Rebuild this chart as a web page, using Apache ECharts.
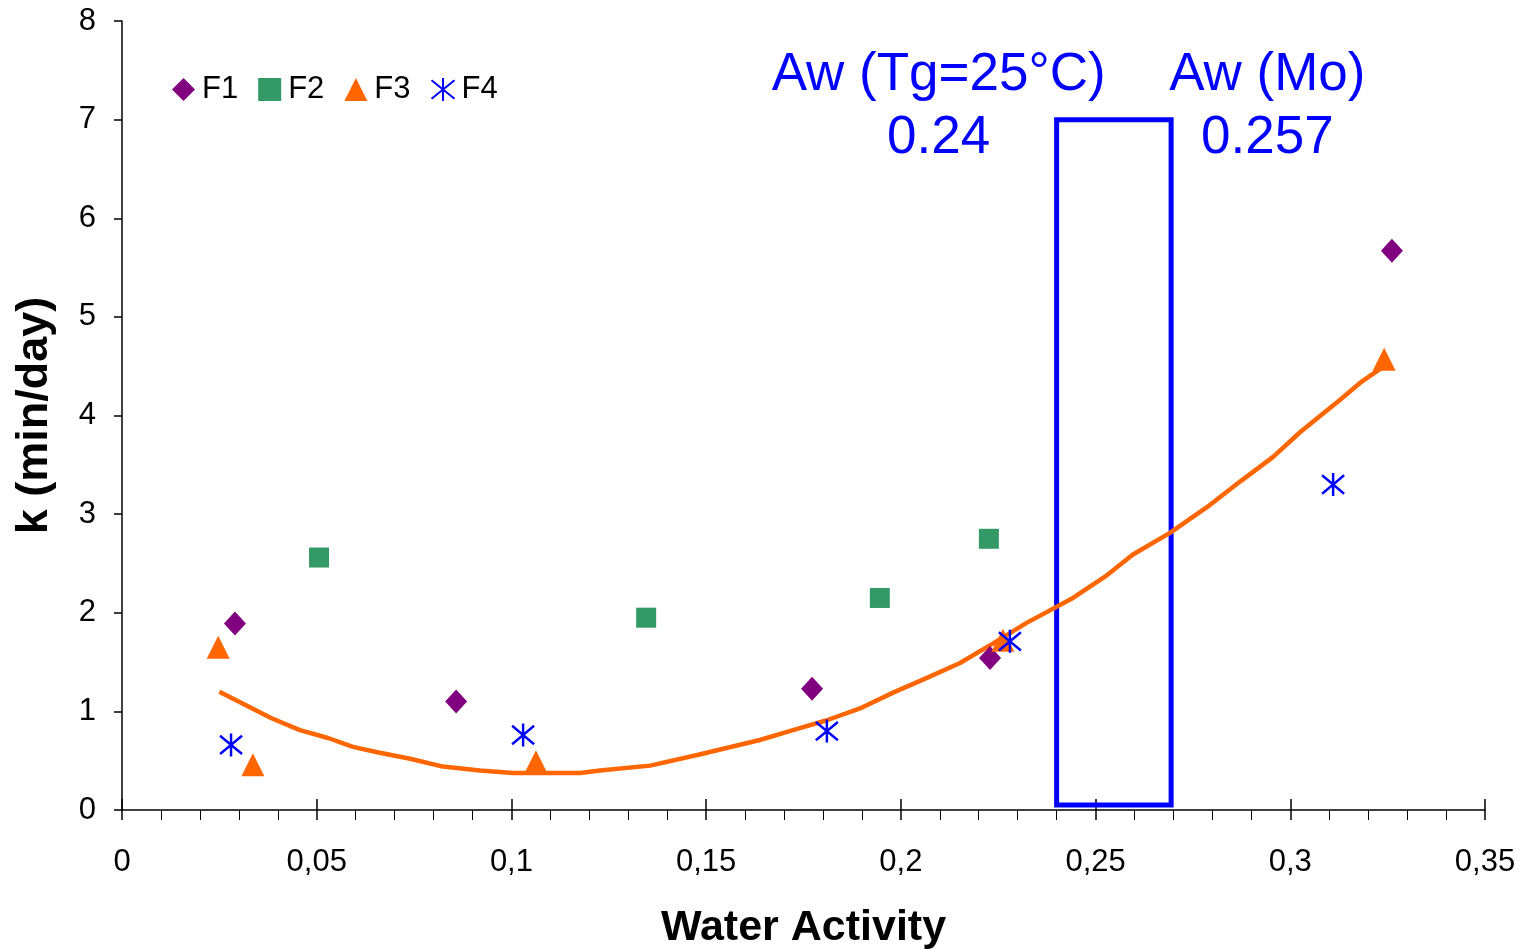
<!DOCTYPE html>
<html>
<head>
<meta charset="utf-8">
<script src="https://cdn.jsdelivr.net/npm/echarts@6/dist/echarts.min.js"></script>
<style>
html,body{margin:0;padding:0;background:#fff;}
#chart{width:1526px;height:949px;}
</style>
</head>
<body>
<div id="chart"></div>
<script>
// ---- data ----
const seriesNames = ['F1', 'F2', 'F3', 'F4'];
const f1 = [[0.029, 1.89], [0.0858, 1.10], [0.1772, 1.23], [0.2229, 1.54], [0.3261, 5.67]];
const f2 = [[0.0506, 2.56], [0.1346, 1.95], [0.1946, 2.15], [0.2226, 2.75]];
const f3 = [[0.0247, 1.65], [0.0336, 0.46], [0.1063, 0.49], [0.2262, 1.72], [0.3241, 4.57]];
const f4 = [[0.028, 0.66], [0.103, 0.76], [0.181, 0.80], [0.228, 1.71], [0.311, 3.30]];
const trendF3 = [
  [0.025, 1.20], [0.0384, 0.93], [0.0457, 0.81], [0.0529, 0.73], [0.0593, 0.64],
  [0.0662, 0.58], [0.074, 0.52], [0.0824, 0.44], [0.0919, 0.40], [0.1004, 0.375],
  [0.1176, 0.375], [0.1227, 0.40], [0.1356, 0.45], [0.148, 0.56], [0.1638, 0.71],
  [0.1723, 0.81], [0.181, 0.91], [0.1895, 1.03], [0.198, 1.19], [0.2067, 1.34],
  [0.2152, 1.49], [0.2237, 1.69], [0.2324, 1.90], [0.2442, 2.15], [0.2529, 2.38],
  [0.2596, 2.59], [0.2691, 2.81], [0.2786, 3.07], [0.2871, 3.33], [0.2956, 3.58],
  [0.3025, 3.83], [0.3128, 4.16], [0.3179, 4.33], [0.3241, 4.50]
];
const xTickLabels = ['0', '0,05', '0,1', '0,15', '0,2', '0,25', '0,3', '0,35'];
const yTickLabels = ['0', '1', '2', '3', '4', '5', '6', '7', '8'];
const boxAw = [0.24, 0.2694];
const boxK = [0.05, 7.0];
const annotText = ['Aw (Tg=25°C)\n0.24', 'Aw (Mo)\n0.257'];
const annotX = [0.2097, 0.2941];
const annotY = [7.133, 7.133];

const colors = { F1: '#800080', F2: '#339966', F3: '#FF6600', F4: '#0000FF' };
const FONT = '"Liberation Sans", Arial, sans-serif';
const starPath = 'path://M10,0L10,20M0,2L20,18M0,18L20,2';

const chart = echarts.init(document.getElementById('chart'), null, { renderer: 'canvas' });

const xCommon = { type: 'value', min: 0, max: 0.35, interval: 0.05, gridIndex: 0 };

chart.setOption({
  backgroundColor: '#ffffff',
  animation: false,
  grid: { left: 122, right: 41, top: 21, bottom: 139, containLabel: false, outerBoundsMode: 'none' },
  legend: {
    left: 167, top: 69,
    data: seriesNames,
    itemWidth: 23, itemHeight: 23, itemGap: 20,
    textStyle: { fontFamily: FONT, fontSize: 31, color: '#000', padding: [0, 0, 0, 2] }
  },
  xAxis: [
    Object.assign({}, xCommon, {
      position: 'bottom',
      name: 'Water Activity',
      nameLocation: 'middle',
      nameGap: 97,
      nameTextStyle: { fontFamily: FONT, fontSize: 43, fontWeight: 'bold', color: '#000' },
      axisLine: { show: true, lineStyle: { color: '#000', width: 1.5 } },
      axisTick: { show: true, inside: false, length: 10, lineStyle: { color: '#000', width: 1.5 } },
      minorTick: { show: true, splitNumber: 5, length: 10, lineStyle: { color: '#000', width: 1 } },
      splitLine: { show: false },
      minorSplitLine: { show: false },
      axisLabel: {
        margin: 37, fontFamily: FONT, fontSize: 31, color: '#000',
        formatter: v => xTickLabels[Math.round(v / 0.05)]
      }
    }),
    Object.assign({}, xCommon, {
      position: 'bottom',
      axisLine: { show: false },
      axisTick: { show: true, inside: true, length: 11, lineStyle: { color: '#000', width: 1.5 } },
      axisLabel: { show: false },
      splitLine: { show: false }
    })
  ],
  yAxis: {
    type: 'value', min: 0, max: 8, interval: 1,
    name: 'k (min/day)',
    nameLocation: 'middle',
    nameGap: 65,
    nameRotate: 90,
    nameTextStyle: { fontFamily: FONT, fontSize: 45, fontWeight: 'bold', color: '#000' },
    axisLine: { show: true, lineStyle: { color: '#000', width: 1.5 } },
    axisTick: { show: true, inside: false, length: 8, lineStyle: { color: '#000', width: 1.5 } },
    splitLine: { show: false },
    axisLabel: {
      margin: 26, fontFamily: FONT, fontSize: 31, color: '#000',
      formatter: v => yTickLabels[Math.round(v)]
    }
  },
  series: [
    {
      name: 'trend', type: 'line', data: trendF3, showSymbol: false, symbol: 'none',
      smooth: false, lineStyle: { color: colors.F3, width: 4.5, opacity: 1 }, z: 2, silent: true
    },
    {
      name: 'F1', type: 'scatter', data: f1, symbol: 'diamond', symbolSize: [22, 24],
      itemStyle: { color: colors.F1, opacity: 1 }, z: 3
    },
    {
      name: 'F2', type: 'scatter', data: f2, symbol: 'rect', symbolSize: 20,
      itemStyle: { color: colors.F2, opacity: 1 }, z: 3
    },
    {
      name: 'F3', type: 'scatter', data: f3, symbol: 'triangle', symbolSize: [23, 23],
      itemStyle: { color: colors.F3, opacity: 1 }, z: 3
    },
    {
      name: 'F4', type: 'scatter', data: f4, symbol: starPath, symbolSize: [22, 23],
      itemStyle: { color: 'rgba(0,0,0,0)', borderColor: colors.F4, borderWidth: 2.5, opacity: 1 }, z: 4
    },
    {
      name: 'annot', type: 'scatter', silent: true, z: 6,
      data: annotX.map((x, i) => ({ value: [x, annotY[i]], name: annotText[i] })),
      symbolSize: 0,
      itemStyle: { opacity: 1 },
      label: {
        show: true, position: 'inside', formatter: p => p.name,
        fontFamily: FONT, fontSize: 53, lineHeight: 63, color: '#0000FF', align: 'center', opacity: 1
      },
      markArea: {
        silent: true,
        itemStyle: { color: 'rgba(0,0,0,0)', borderColor: '#0000FF', borderWidth: 5, opacity: 1 },
        data: [[{ coord: [boxAw[0], boxK[1]] }, { coord: [boxAw[1], boxK[0]] }]]
      }
    }
  ]
});
</script>
</body>
</html>
